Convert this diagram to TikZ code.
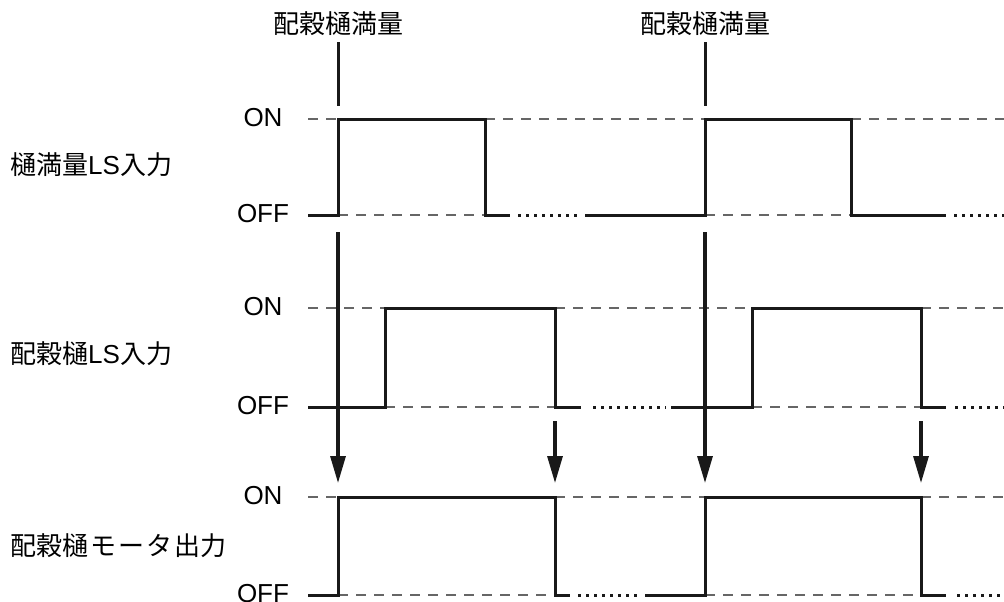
\documentclass[tikz,border=0pt]{standalone}
\usepackage{fontspec}
\setmainfont{Liberation Sans}
\newfontfamily\cjk{Noto Sans CJK JP}
\usepackage{tikz}
\usetikzlibrary{arrows.meta, positioning, calc}
\tikzstyle{level} = [font=\fontsize{26}{30}\selectfont, inner sep=0pt]
\tikzstyle{signame} = [anchor=west, font=\fontsize{26}{30}\selectfont, inner sep=0pt]
\tikzstyle{event} = [font=\fontsize{26}{30}\selectfont\cjk, inner xsep=0pt, inner ysep=6pt]
\tikzstyle{refline} = [line width=1.1pt, draw=black!60, dash pattern=on 10pt off 8pt]
\tikzstyle{wave} = [line width=3pt, line join=miter, draw=black!90]
\tikzstyle{dots} = [line width=3pt, draw=black!90, dash pattern=on 3pt off 5pt]
\tikzstyle{trigger} = [line width=3.2pt, draw=black!90, -{Triangle[length=27pt,width=15pt]}]

\begin{document}
\begin{tikzpicture}[x=1pt, y=-1pt]
\useasboundingbox (0,0) rectangle (1004,602);

\node (ev1) [event] at (338,24) {配穀樋満量};
\node (ev2) [event] at (705,24) {配穀樋満量};
\coordinate (tick1) at (338,106);
\coordinate (tick2) at (705,106);
\draw [wave] (ev1.south) -- (tick1);
\draw [wave] (ev2.south) -- (tick2);

\node (sig1) [signame] at (10,165) {{\cjk 樋満量}LS{\cjk 入力}};
\node (sig2) [signame] at (10,354) {{\cjk 配穀樋}LS{\cjk 入力}};
\node (sig3) [signame] at (10,546) {\cjk 配穀樋\hspace{2pt}モ\hspace{2pt}ー\hspace{2pt}タ\hspace{2pt}出力};

\node (on1) [level] at (263,118) {ON};
\node (off1) [level] at (263,214) {OFF};
\node (on2) [level] at (263,307) {ON};
\node (off2) [level] at (263,406) {OFF};
\node (on3) [level] at (263,496) {ON};
\node (off3) [level] at (263,594) {OFF};

% reference levels
\draw [refline] (308,119) -- (338,119) (485,119) -- (705,119) (851,119) -- (1004,119);
\draw [refline] (338,215) -- (485,215) (705,215) -- (851,215);
\draw [refline] (308,308) -- (385,308) (555,308) -- (752,308) (921,308) -- (1004,308);
\draw [refline] (385,407) -- (555,407) (752,407) -- (921,407);
\draw [refline] (308,497) -- (338,497) (555,497) -- (705,497) (921,497) -- (1004,497);
\draw [refline] (338,595) -- (555,595) (705,595) -- (921,595);

% waveforms
\draw [wave] (308,215) -- (338,215) -- (338,119) -- (485,119) -- (485,215) -- (510,215);
\draw [wave] (585,215) -- (705,215) -- (705,119) -- (851,119) -- (851,215) -- (946,215);
\draw [dots] (518,215) -- (580,215) (954,215) -- (1004,215);

\draw [wave] (308,407) -- (385,407) -- (385,308) -- (555,308) -- (555,407) -- (581,407);
\draw [wave] (671,407) -- (752,407) -- (752,308) -- (921,308) -- (921,407) -- (946,407);
\draw [dots] (593,407) -- (666,407) (955,407) -- (1004,407);

\draw [wave] (308,595) -- (338,595) -- (338,497) -- (555,497) -- (555,595) -- (570,595);
\draw [wave] (645,595) -- (705,595) -- (705,497) -- (921,497) -- (921,595) -- (946,595);
\draw [dots] (578,595) -- (640,595) (957,595) -- (1004,595);

% triggers
\coordinate (a1s) at (338,232);
\coordinate (a1e) at (338,483);
\coordinate (a2s) at (555,421);
\coordinate (a2e) at (555,483);
\coordinate (a3s) at (705,232);
\coordinate (a3e) at (705,483);
\coordinate (a4s) at (921,421);
\coordinate (a4e) at (921,483);
\draw [trigger] (a1s) -- (a1e);
\draw [trigger] (a2s) -- (a2e);
\draw [trigger] (a3s) -- (a3e);
\draw [trigger] (a4s) -- (a4e);
\end{tikzpicture}
\end{document}
